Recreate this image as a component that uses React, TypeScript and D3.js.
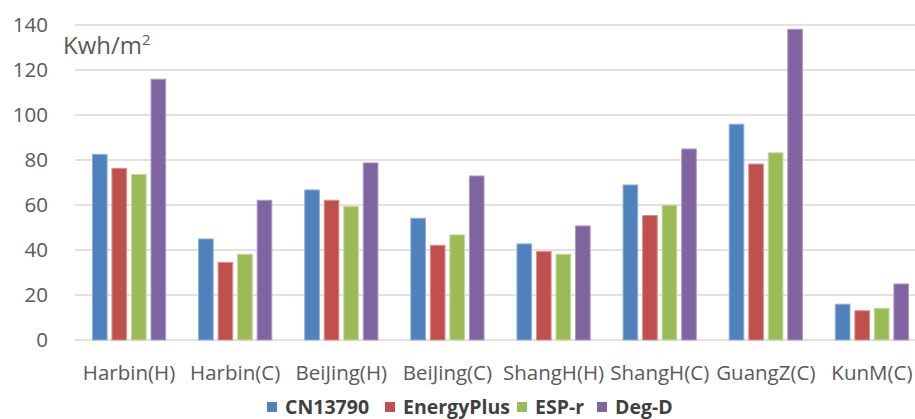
import React, { useEffect, useRef } from "react";
import * as d3 from "d3";

const categories = ["Harbin(H)", "Harbin(C)", "BeiJing(H)", "BeiJing(C)", "ShangH(H)", "ShangH(C)", "GuangZ(C)", "KunM(C)"];
const seriesNames = ["CN13790", "EnergyPlus", "ESP-r", "Deg-D"];
const cn13790 = [82.5, 44.9, 66.7, 54.1, 42.7, 68.9, 95.9, 15.9];
const energyPlus = [76.3, 34.5, 62.1, 42.1, 39.3, 55.3, 78.2, 13.0];
const espR = [73.6, 38.1, 59.3, 46.7, 38.1, 59.9, 83.2, 14.1];
const degD = [115.9, 62.1, 78.7, 72.9, 50.7, 84.9, 138.1, 24.9];
const yTicks = [0, 20, 40, 60, 80, 100, 120, 140];
const colors = ["#4F81BD", "#C0504D", "#9BBB59", "#8064A2"];
const strokes = ["#8fb0d9", "#dc8f8d", "#c4d99a", "#ad9bc6"];

const W = 915;
const H = 419;

export default function App() {
  const ref = useRef<SVGSVGElement>(null);

  useEffect(() => {
    const svg = d3.select(ref.current);
    svg.selectAll("*").remove();
    const font = "'Open Sans', sans-serif";
    const seriesValues = [cn13790, energyPlus, espR, degD];

    const y = d3.scaleLinear().domain([0, 140]).range([340, 25]);
    const x0 = d3.scaleBand<string>().domain(categories).range([76, 925]).paddingInner(0.31).paddingOuter(0.155);
    const x1 = d3.scaleBand<string>().domain(seriesNames).range([0, x0.bandwidth()]).paddingInner(0.25);

    // gridlines
    svg.append("g")
      .selectAll("line")
      .data(yTicks)
      .join("line")
      .attr("x1", 75)
      .attr("x2", W)
      .attr("y1", (d) => y(d))
      .attr("y2", (d) => y(d))
      .attr("stroke", "#d9d9d9")
      .attr("stroke-width", 1.5);

    // y tick labels
    svg.append("g")
      .selectAll("text")
      .data(yTicks)
      .join("text")
      .attr("x", 48)
      .attr("y", (d) => y(d))
      .attr("dy", "0.35em")
      .attr("text-anchor", "end")
      .attr("font-family", font)
      .attr("font-size", 20.5)
      .attr("fill", "#595959")
      .text((d) => d);

    // unit label
    const unit = svg.append("text")
      .attr("x", 63)
      .attr("y", 54)
      .attr("font-family", font)
      .attr("font-size", 24)
      .attr("fill", "#595959");
    unit.append("tspan").text("Kwh/m");
    unit.append("tspan").attr("font-size", 15).attr("dy", -9).text("2");

    // bars
    const groups = svg.append("g")
      .selectAll("g")
      .data(categories)
      .join("g")
      .attr("transform", (c) => `translate(${x0(c)},0)`);

    groups.selectAll("rect")
      .data((c) => seriesNames.map((s, k) => ({ s, k, v: seriesValues[k][categories.indexOf(c)] })))
      .join("rect")
      .attr("x", (d) => x1(d.s)!)
      .attr("width", x1.bandwidth())
      .attr("y", (d) => y(d.v))
      .attr("height", (d) => y(0) - y(d.v))
      .attr("fill", (d) => colors[d.k])
      .attr("stroke", (d) => strokes[d.k])
      .attr("stroke-width", 1);

    // category labels
    svg.append("g")
      .selectAll("text")
      .data(categories)
      .join("text")
      .attr("x", (c) => x0(c)! + x0.bandwidth() / 2)
      .attr("y", 380)
      .attr("text-anchor", "middle")
      .attr("font-family", font)
      .attr("font-size", 20.5)
      .attr("fill", "#595959")
      .text((d) => d);

    // legend
    const legendX = [267, 385, 517, 597];
    const legend = svg.append("g")
      .selectAll("g")
      .data(seriesNames)
      .join("g")
      .attr("transform", (_, i) => `translate(${legendX[i]},0)`);
    legend.append("rect")
      .attr("x", 0)
      .attr("y", 402)
      .attr("width", 10)
      .attr("height", 10)
      .attr("fill", (_, i) => colors[i]);
    legend.append("text")
      .attr("x", 18)
      .attr("y", 414)
      .attr("font-family", font)
      .attr("font-size", 19.5)
      .attr("font-weight", "bold")
      .attr("fill", "#404040")
      .text((d) => d);
  }, []);

  return (
    <svg
      ref={ref}
      width={W}
      height={H}
      style={{ position: "absolute", left: 0, top: 0, background: "#fff" }}
    />
  );
}
